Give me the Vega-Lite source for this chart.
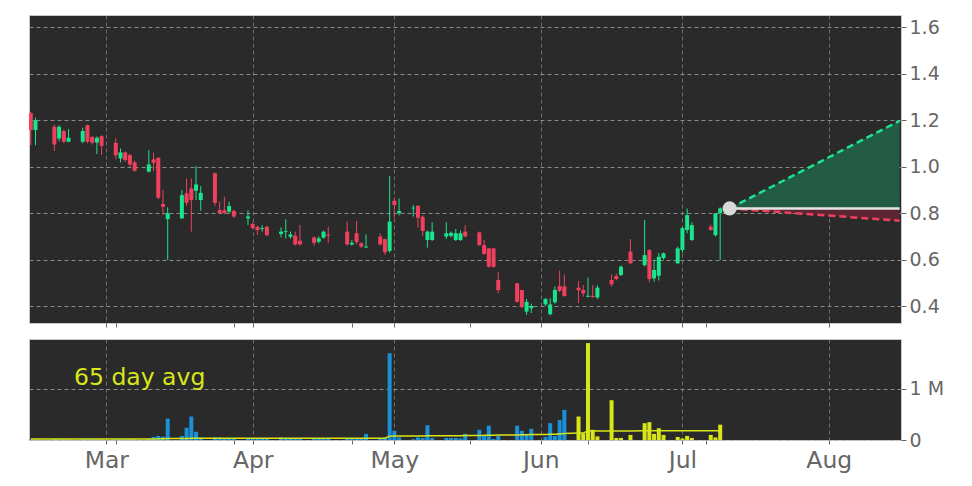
{
  "$schema": "https://vega.github.io/schema/vega-lite/v6.json",
  "background": "white",
  "padding": {"left": 28, "top": 14, "right": 5, "bottom": 5},
  "spacing": 16,
  "bounds": "flush",
  "config": {
    "view": {"fill": "#2a2a2a", "stroke": "#c8c8c8", "strokeWidth": 1},
    "axis": {"labelFont": "DejaVu Sans", "labelColor": "#666666", "tickColor": "#666666", "domain": false, "gridColor": "#b4b4b4", "gridDash": [4, 3], "gridOpacity": 0.7, "gridWidth": 1, "title": null}
  },
  "datasets": {
    "daily": [
      {"date": "2025-02-13", "open": 1.23, "high": 1.235, "low": 1.092, "close": 1.157, "volume": 15000, "avg65": 20000},
      {"date": "2025-02-14", "open": 1.157, "high": 1.21, "low": 1.092, "close": 1.2, "volume": 12000, "avg65": 20000},
      {"date": "2025-02-18", "open": 1.171, "high": 1.181, "low": 1.067, "close": 1.095, "volume": 20000, "avg65": 20000},
      {"date": "2025-02-19", "open": 1.121, "high": 1.178, "low": 1.108, "close": 1.171, "volume": 15000, "avg65": 20000},
      {"date": "2025-02-20", "open": 1.153, "high": 1.16, "low": 1.1, "close": 1.107, "volume": 15000, "avg65": 20000},
      {"date": "2025-02-21", "open": 1.107, "high": 1.161, "low": 1.105, "close": 1.124, "volume": 10000, "avg65": 20000},
      {"date": "2025-02-24", "open": 1.107, "high": 1.167, "low": 1.1, "close": 1.153, "volume": 15000, "avg65": 20000},
      {"date": "2025-02-25", "open": 1.178, "high": 1.18, "low": 1.1, "close": 1.107, "volume": 18000, "avg65": 20000},
      {"date": "2025-02-26", "open": 1.128, "high": 1.13, "low": 1.095, "close": 1.103, "volume": 15000, "avg65": 20000},
      {"date": "2025-02-27", "open": 1.103, "high": 1.13, "low": 1.054, "close": 1.124, "volume": 15000, "avg65": 20000},
      {"date": "2025-02-28", "open": 1.131, "high": 1.135, "low": 1.05, "close": 1.089, "volume": 15000, "avg65": 20000},
      {"date": "2025-03-03", "open": 1.102, "high": 1.122, "low": 1.031, "close": 1.049, "volume": 15000, "avg65": 20000},
      {"date": "2025-03-04", "open": 1.035, "high": 1.078, "low": 1.018, "close": 1.061, "volume": 15000, "avg65": 20000},
      {"date": "2025-03-05", "open": 1.061, "high": 1.065, "low": 1.02, "close": 1.028, "volume": 15000, "avg65": 20000},
      {"date": "2025-03-06", "open": 1.049, "high": 1.055, "low": 1.0, "close": 1.009, "volume": 15000, "avg65": 20000},
      {"date": "2025-03-07", "open": 1.018, "high": 1.025, "low": 0.978, "close": 0.982, "volume": 15000, "avg65": 20000},
      {"date": "2025-03-10", "open": 0.978, "high": 1.071, "low": 0.975, "close": 1.009, "volume": 30000, "avg65": 21000},
      {"date": "2025-03-11", "open": 1.031, "high": 1.06, "low": 0.98, "close": 1.016, "volume": 60000, "avg65": 22000},
      {"date": "2025-03-12", "open": 1.038, "high": 1.04, "low": 0.86, "close": 0.866, "volume": 80000, "avg65": 23000},
      {"date": "2025-03-13", "open": 0.839, "high": 0.899, "low": 0.791, "close": 0.827, "volume": 65000, "avg65": 24000},
      {"date": "2025-03-14", "open": 0.774, "high": 0.825, "low": 0.598, "close": 0.799, "volume": 420000, "avg65": 28000},
      {"date": "2025-03-17", "open": 0.777, "high": 0.899, "low": 0.775, "close": 0.877, "volume": 80000, "avg65": 29000},
      {"date": "2025-03-18", "open": 0.885, "high": 0.949, "low": 0.83, "close": 0.844, "volume": 240000, "avg65": 30000},
      {"date": "2025-03-19", "open": 0.906, "high": 0.949, "low": 0.72, "close": 0.856, "volume": 460000, "avg65": 32000},
      {"date": "2025-03-20", "open": 0.896, "high": 1.002, "low": 0.856, "close": 0.923, "volume": 160000, "avg65": 33000},
      {"date": "2025-03-21", "open": 0.856, "high": 0.916, "low": 0.81, "close": 0.887, "volume": 50000, "avg65": 33000},
      {"date": "2025-03-24", "open": 0.971, "high": 0.975, "low": 0.83, "close": 0.844, "volume": 50000, "avg65": 33000},
      {"date": "2025-03-25", "open": 0.813, "high": 0.849, "low": 0.795, "close": 0.8, "volume": 50000, "avg65": 33000},
      {"date": "2025-03-26", "open": 0.812, "high": 0.87, "low": 0.795, "close": 0.8, "volume": 30000, "avg65": 33000},
      {"date": "2025-03-27", "open": 0.806, "high": 0.849, "low": 0.8, "close": 0.83, "volume": 30000, "avg65": 33000},
      {"date": "2025-03-28", "open": 0.809, "high": 0.815, "low": 0.78, "close": 0.785, "volume": 20000, "avg65": 33000},
      {"date": "2025-03-31", "open": 0.777, "high": 0.812, "low": 0.748, "close": 0.785, "volume": 20000, "avg65": 33000},
      {"date": "2025-04-01", "open": 0.753, "high": 0.76, "low": 0.73, "close": 0.736, "volume": 40000, "avg65": 33000},
      {"date": "2025-04-02", "open": 0.741, "high": 0.745, "low": 0.706, "close": 0.727, "volume": 30000, "avg65": 33000},
      {"date": "2025-04-03", "open": 0.731, "high": 0.748, "low": 0.72, "close": 0.735, "volume": 30000, "avg65": 33000},
      {"date": "2025-04-04", "open": 0.741, "high": 0.745, "low": 0.7, "close": 0.705, "volume": 30000, "avg65": 33000},
      {"date": "2025-04-07", "open": 0.71, "high": 0.738, "low": 0.695, "close": 0.72, "volume": 50000, "avg65": 33000},
      {"date": "2025-04-08", "open": 0.718, "high": 0.773, "low": 0.69, "close": 0.722, "volume": 30000, "avg65": 33000},
      {"date": "2025-04-09", "open": 0.698, "high": 0.72, "low": 0.69, "close": 0.708, "volume": 30000, "avg65": 33000},
      {"date": "2025-04-10", "open": 0.702, "high": 0.72, "low": 0.66, "close": 0.665, "volume": 40000, "avg65": 33000},
      {"date": "2025-04-11", "open": 0.681, "high": 0.748, "low": 0.66, "close": 0.665, "volume": 40000, "avg65": 33000},
      {"date": "2025-04-14", "open": 0.695, "high": 0.7, "low": 0.66, "close": 0.672, "volume": 20000, "avg65": 33000},
      {"date": "2025-04-15", "open": 0.677, "high": 0.7, "low": 0.67, "close": 0.691, "volume": 20000, "avg65": 33000},
      {"date": "2025-04-16", "open": 0.694, "high": 0.725, "low": 0.69, "close": 0.72, "volume": 30000, "avg65": 33000},
      {"date": "2025-04-17", "open": 0.708, "high": 0.741, "low": 0.67, "close": 0.703, "volume": 30000, "avg65": 33000},
      {"date": "2025-04-21", "open": 0.72, "high": 0.763, "low": 0.66, "close": 0.665, "volume": 20000, "avg65": 33000},
      {"date": "2025-04-22", "open": 0.665, "high": 0.685, "low": 0.66, "close": 0.672, "volume": 30000, "avg65": 33000},
      {"date": "2025-04-23", "open": 0.713, "high": 0.766, "low": 0.665, "close": 0.675, "volume": 30000, "avg65": 33000},
      {"date": "2025-04-24", "open": 0.67, "high": 0.675, "low": 0.65, "close": 0.656, "volume": 20000, "avg65": 33000},
      {"date": "2025-04-25", "open": 0.652, "high": 0.708, "low": 0.65, "close": 0.656, "volume": 120000, "avg65": 34000},
      {"date": "2025-04-28", "open": 0.699, "high": 0.713, "low": 0.66, "close": 0.665, "volume": 20000, "avg65": 34000},
      {"date": "2025-04-29", "open": 0.688, "high": 0.69, "low": 0.62, "close": 0.631, "volume": 40000, "avg65": 34000},
      {"date": "2025-04-30", "open": 0.637, "high": 0.96, "low": 0.63, "close": 0.763, "volume": 1700000, "avg65": 76000},
      {"date": "2025-05-01", "open": 0.853, "high": 0.865, "low": 0.78, "close": 0.835, "volume": 180000, "avg65": 79000},
      {"date": "2025-05-02", "open": 0.8, "high": 0.863, "low": 0.79, "close": 0.809, "volume": 50000, "avg65": 79000},
      {"date": "2025-05-05", "open": 0.82, "high": 0.835, "low": 0.785, "close": 0.823, "volume": 15000, "avg65": 79000},
      {"date": "2025-05-06", "open": 0.831, "high": 0.835, "low": 0.737, "close": 0.78, "volume": 50000, "avg65": 80000},
      {"date": "2025-05-07", "open": 0.784, "high": 0.79, "low": 0.7, "close": 0.723, "volume": 40000, "avg65": 80000},
      {"date": "2025-05-08", "open": 0.684, "high": 0.725, "low": 0.651, "close": 0.72, "volume": 290000, "avg65": 84000},
      {"date": "2025-05-09", "open": 0.684, "high": 0.76, "low": 0.68, "close": 0.72, "volume": 40000, "avg65": 84000},
      {"date": "2025-05-12", "open": 0.699, "high": 0.76, "low": 0.688, "close": 0.713, "volume": 40000, "avg65": 85000},
      {"date": "2025-05-13", "open": 0.702, "high": 0.72, "low": 0.695, "close": 0.715, "volume": 40000, "avg65": 85000},
      {"date": "2025-05-14", "open": 0.684, "high": 0.731, "low": 0.68, "close": 0.713, "volume": 40000, "avg65": 85000},
      {"date": "2025-05-15", "open": 0.684, "high": 0.725, "low": 0.68, "close": 0.713, "volume": 30000, "avg65": 85000},
      {"date": "2025-05-16", "open": 0.72, "high": 0.748, "low": 0.695, "close": 0.7, "volume": 120000, "avg65": 87000},
      {"date": "2025-05-19", "open": 0.717, "high": 0.72, "low": 0.66, "close": 0.662, "volume": 200000, "avg65": 90000},
      {"date": "2025-05-20", "open": 0.662, "high": 0.684, "low": 0.62, "close": 0.624, "volume": 80000, "avg65": 91000},
      {"date": "2025-05-21", "open": 0.648, "high": 0.65, "low": 0.565, "close": 0.569, "volume": 280000, "avg65": 95000},
      {"date": "2025-05-22", "open": 0.648, "high": 0.65, "low": 0.565, "close": 0.569, "volume": 20000, "avg65": 95000},
      {"date": "2025-05-23", "open": 0.512, "high": 0.548, "low": 0.455, "close": 0.469, "volume": 80000, "avg65": 96000},
      {"date": "2025-05-27", "open": 0.498, "high": 0.5, "low": 0.415, "close": 0.418, "volume": 280000, "avg65": 100000},
      {"date": "2025-05-28", "open": 0.469, "high": 0.47, "low": 0.39, "close": 0.397, "volume": 180000, "avg65": 102000},
      {"date": "2025-05-29", "open": 0.376, "high": 0.43, "low": 0.362, "close": 0.418, "volume": 120000, "avg65": 104000},
      {"date": "2025-05-30", "open": 0.39, "high": 0.41, "low": 0.37, "close": 0.4, "volume": 220000, "avg65": 107000},
      {"date": "2025-06-02", "open": 0.407, "high": 0.435, "low": 0.4, "close": 0.43, "volume": 60000, "avg65": 108000},
      {"date": "2025-06-03", "open": 0.365, "high": 0.433, "low": 0.36, "close": 0.407, "volume": 330000, "avg65": 113000},
      {"date": "2025-06-04", "open": 0.416, "high": 0.484, "low": 0.41, "close": 0.469, "volume": 80000, "avg65": 114000},
      {"date": "2025-06-05", "open": 0.486, "high": 0.552, "low": 0.46, "close": 0.466, "volume": 390000, "avg65": 120000},
      {"date": "2025-06-06", "open": 0.484, "high": 0.536, "low": 0.44, "close": 0.443, "volume": 590000, "avg65": 128000},
      {"date": "2025-06-09", "open": 0.479, "high": 0.508, "low": 0.412, "close": 0.468, "volume": 460000, "avg65": 135000},
      {"date": "2025-06-10", "open": 0.469, "high": 0.49, "low": 0.44, "close": 0.455, "volume": 130000, "avg65": 137000},
      {"date": "2025-06-11", "open": 0.44, "high": 0.522, "low": 0.438, "close": 0.444, "volume": 1900000, "avg65": 175000},
      {"date": "2025-06-12", "open": 0.444, "high": 0.49, "low": 0.435, "close": 0.439, "volume": 200000, "avg65": 176000},
      {"date": "2025-06-13", "open": 0.437, "high": 0.49, "low": 0.43, "close": 0.479, "volume": 70000, "avg65": 176000},
      {"date": "2025-06-16", "open": 0.512, "high": 0.536, "low": 0.484, "close": 0.493, "volume": 780000, "avg65": 178000},
      {"date": "2025-06-17", "open": 0.529, "high": 0.54, "low": 0.51, "close": 0.516, "volume": 40000, "avg65": 178000},
      {"date": "2025-06-18", "open": 0.533, "high": 0.575, "low": 0.53, "close": 0.569, "volume": 40000, "avg65": 178000},
      {"date": "2025-06-20", "open": 0.634, "high": 0.688, "low": 0.58, "close": 0.584, "volume": 100000, "avg65": 178000},
      {"date": "2025-06-23", "open": 0.576, "high": 0.77, "low": 0.57, "close": 0.619, "volume": 330000, "avg65": 179000},
      {"date": "2025-06-24", "open": 0.641, "high": 0.645, "low": 0.502, "close": 0.516, "volume": 350000, "avg65": 179000},
      {"date": "2025-06-25", "open": 0.519, "high": 0.6, "low": 0.505, "close": 0.555, "volume": 120000, "avg65": 179000},
      {"date": "2025-06-26", "open": 0.53, "high": 0.628, "low": 0.51, "close": 0.612, "volume": 230000, "avg65": 179000},
      {"date": "2025-06-27", "open": 0.606, "high": 0.63, "low": 0.6, "close": 0.627, "volume": 100000, "avg65": 179000},
      {"date": "2025-06-30", "open": 0.584, "high": 0.655, "low": 0.58, "close": 0.648, "volume": 60000, "avg65": 179000},
      {"date": "2025-07-01", "open": 0.641, "high": 0.74, "low": 0.63, "close": 0.735, "volume": 30000, "avg65": 179000},
      {"date": "2025-07-02", "open": 0.727, "high": 0.82, "low": 0.713, "close": 0.791, "volume": 80000, "avg65": 179000},
      {"date": "2025-07-03", "open": 0.684, "high": 0.76, "low": 0.68, "close": 0.748, "volume": 40000, "avg65": 179000},
      {"date": "2025-07-07", "open": 0.741, "high": 0.75, "low": 0.725, "close": 0.727, "volume": 100000, "avg65": 180000},
      {"date": "2025-07-08", "open": 0.705, "high": 0.8, "low": 0.699, "close": 0.799, "volume": 50000, "avg65": 180000},
      {"date": "2025-07-09", "open": 0.8, "high": 0.825, "low": 0.598, "close": 0.82, "volume": 300000, "avg65": 180000}
    ],
    "forecast": [
      {"date": "2025-07-11", "mid": 0.82, "up": 0.82, "down": 0.82},
      {"date": "2025-08-16", "mid": 0.82, "up": 1.197, "down": 0.767}
    ],
    "anchor": [
      {"date": "2025-07-11", "price": 0.82}
    ]
  },
  "vconcat": [
    {
      "width": 872,
      "height": 308,
      "layer": [
        {
          "data": {"name": "daily"},
          "mark": {"type": "rule", "clip": true, "strokeWidth": 1},
          "encoding": {
            "x": {"field": "date", "type": "temporal",
              "scale": {"type": "utc", "padding": 0, "domain": [{"year": 2025, "month": 2, "date": 12, "hours": 15, "utc": true}, {"year": 2025, "month": 8, "date": 16, "hours": 7, "utc": true}]},
              "axis": {"labels": false, "tickSize": 4, "grid": true,
                "values": [{"year": 2025, "month": 3, "date": 1, "utc": true}, {"year": 2025, "month": 3, "date": 3, "utc": true}, {"year": 2025, "month": 3, "date": 28, "utc": true}, {"year": 2025, "month": 4, "date": 1, "utc": true}, {"year": 2025, "month": 4, "date": 22, "utc": true}, {"year": 2025, "month": 5, "date": 1, "utc": true}, {"year": 2025, "month": 5, "date": 17, "utc": true}, {"year": 2025, "month": 6, "date": 1, "utc": true}, {"year": 2025, "month": 6, "date": 11, "utc": true}, {"year": 2025, "month": 7, "date": 1, "utc": true}, {"year": 2025, "month": 7, "date": 6, "utc": true}, {"year": 2025, "month": 8, "date": 1, "utc": true}],
                "gridOpacity": {"condition": {"test": "utcdate(datum.value) == 1", "value": 0.7}, "value": 0}}},
            "y": {"field": "low", "type": "quantitative",
              "scale": {"domain": [0.327, 1.652], "nice": false, "zero": false, "padding": 0},
              "axis": {"orient": "right", "values": [0.4, 0.6, 0.8, 1.0, 1.2, 1.4, 1.6], "format": ".1f", "labelFontSize": 19, "tickSize": 5, "labelPadding": 3, "grid": true}},
            "y2": {"field": "high"},
            "color": {"condition": {"test": "datum.close >= datum.open", "value": "#19e68c"}, "value": "#f0405e"}
          }
        },
        {
          "data": {"name": "daily"},
          "mark": {"type": "bar", "width": 4, "clip": true},
          "encoding": {
            "x": {"field": "date", "type": "temporal"},
            "y": {"field": "open", "type": "quantitative"},
            "y2": {"field": "close"},
            "color": {"condition": {"test": "datum.close >= datum.open", "value": "#19e68c"}, "value": "#f0405e"}
          }
        },
        {
          "data": {"name": "forecast"},
          "mark": {"type": "area", "color": "#225c44", "clip": true},
          "encoding": {"x": {"field": "date", "type": "temporal"}, "y": {"field": "mid", "type": "quantitative"}, "y2": {"field": "up"}}
        },
        {
          "data": {"name": "forecast"},
          "mark": {"type": "area", "color": "#5b2631", "clip": true},
          "encoding": {"x": {"field": "date", "type": "temporal"}, "y": {"field": "down", "type": "quantitative"}, "y2": {"field": "mid"}}
        },
        {
          "data": {"name": "forecast"},
          "mark": {"type": "line", "color": "#1de38f", "strokeWidth": 2.5, "strokeDash": [7, 4], "clip": true},
          "encoding": {"x": {"field": "date", "type": "temporal"}, "y": {"field": "up", "type": "quantitative"}}
        },
        {
          "data": {"name": "forecast"},
          "mark": {"type": "line", "color": "#f0405e", "strokeWidth": 2.5, "strokeDash": [7, 4], "clip": true},
          "encoding": {"x": {"field": "date", "type": "temporal"}, "y": {"field": "down", "type": "quantitative"}}
        },
        {
          "data": {"name": "forecast"},
          "mark": {"type": "line", "color": "#e6e6e6", "strokeWidth": 2.5, "clip": true},
          "encoding": {"x": {"field": "date", "type": "temporal"}, "y": {"field": "mid", "type": "quantitative"}}
        },
        {
          "data": {"name": "anchor"},
          "mark": {"type": "point", "filled": true, "color": "#d9d9d9", "opacity": 1, "size": 200},
          "encoding": {"x": {"field": "date", "type": "temporal"}, "y": {"field": "price", "type": "quantitative"}}
        }
      ]
    },
    {
      "width": 872,
      "height": 101,
      "layer": [
        {
          "data": {"name": "daily"},
          "mark": {"type": "bar", "width": 4, "clip": true},
          "encoding": {
            "x": {"field": "date", "type": "temporal",
              "scale": {"type": "utc", "padding": 0, "domain": [{"year": 2025, "month": 2, "date": 12, "hours": 15, "utc": true}, {"year": 2025, "month": 8, "date": 16, "hours": 7, "utc": true}]},
              "axis": {"labelFontSize": 23.5, "labelPadding": 4, "tickSize": 4, "grid": true, "labelOverlap": false,
                "values": [{"year": 2025, "month": 3, "date": 1, "utc": true}, {"year": 2025, "month": 3, "date": 3, "utc": true}, {"year": 2025, "month": 3, "date": 28, "utc": true}, {"year": 2025, "month": 4, "date": 1, "utc": true}, {"year": 2025, "month": 4, "date": 22, "utc": true}, {"year": 2025, "month": 5, "date": 1, "utc": true}, {"year": 2025, "month": 5, "date": 17, "utc": true}, {"year": 2025, "month": 6, "date": 1, "utc": true}, {"year": 2025, "month": 6, "date": 11, "utc": true}, {"year": 2025, "month": 7, "date": 1, "utc": true}, {"year": 2025, "month": 7, "date": 6, "utc": true}, {"year": 2025, "month": 8, "date": 1, "utc": true}],
                "labelExpr": "utcdate(datum.value) == 1 ? utcFormat(datum.value, '%b') : ''",
                "gridOpacity": {"condition": {"test": "utcdate(datum.value) == 1", "value": 0.7}, "value": 0}}},
            "y": {"field": "volume", "type": "quantitative",
              "scale": {"domain": [0, 1980000], "nice": false, "padding": 0},
              "axis": {"orient": "right", "values": [0, 1000000], "labelFontSize": 19, "tickSize": 5, "labelPadding": 3, "grid": true,
                "labelExpr": "datum.value == 0 ? '0' : format(datum.value / 1000000, 'd') + ' M'"}},
            "color": {"condition": {"test": "time(datum.date) >= utc(2025, 5, 9)", "value": "#d8e619"}, "value": "#1a90d8"}
          }
        },
        {
          "data": {"name": "daily"},
          "mark": {"type": "line", "color": "#d8e619", "strokeWidth": 1.5, "clip": true},
          "encoding": {"x": {"field": "date", "type": "temporal"}, "y": {"field": "avg65", "type": "quantitative"}}
        },
        {
          "data": {"values": [{}]},
          "mark": {"type": "text", "align": "left", "baseline": "middle", "font": "DejaVu Sans", "fontSize": 23.5, "color": "#d8e619"},
          "encoding": {
            "x": {"datum": {"year": 2025, "month": 2, "date": 22, "hours": 4, "utc": true}, "type": "temporal"},
            "y": {"datum": 1220000, "type": "quantitative"},
            "text": {"value": "65 day avg"}
          }
        }
      ]
    }
  ]
}
